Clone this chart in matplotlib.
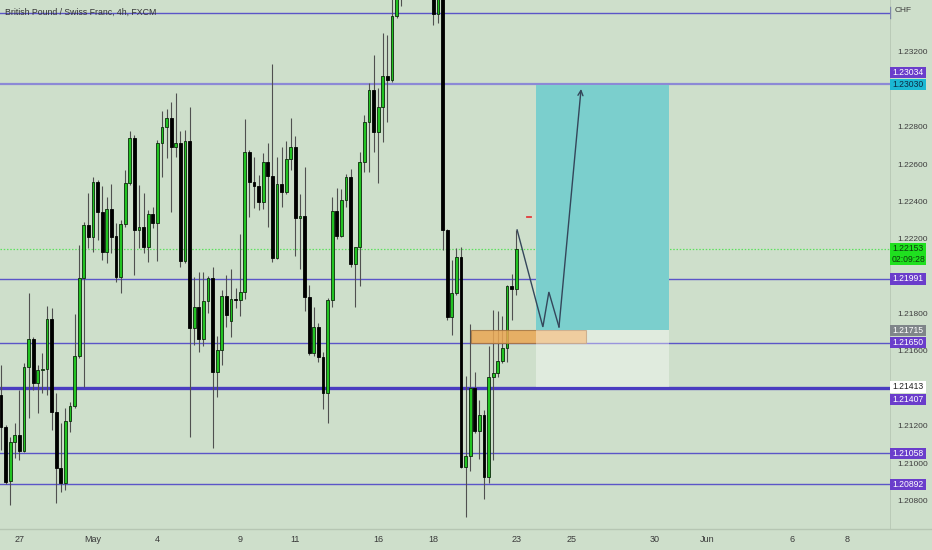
import matplotlib
matplotlib.use('Agg')
import matplotlib.pyplot as plt
from matplotlib.patches import Rectangle
from matplotlib.lines import Line2D
import numpy as np

plt.rcParams['font.family'] = ['Liberation Sans Narrow', 'Liberation Sans', 'DejaVu Sans']

# ---------------- data ----------------
title = "British Pound / Swiss Franc, 4h, FXCM"

opens = [
    1.21370, 1.21199, 1.20910, 1.21118, 1.21156, 1.21070, 1.21520, 1.21669, 1.21434, 1.21504,
    1.21509, 1.21776, 1.21279, 1.20979, 1.20899, 1.21231, 1.21311, 1.21578, 1.21996, 1.22279,
    1.22215, 1.22509, 1.22349, 1.22135, 1.22365, 1.22220, 1.22001, 1.22285, 1.22504, 1.22745,
    1.22253, 1.22269, 1.22162, 1.22338, 1.22290, 1.22718, 1.22804, 1.22852, 1.22697, 1.22718,
    1.22087, 1.22729, 1.21728, 1.21841, 1.21669, 1.21873, 1.21996, 1.21493, 1.21611, 1.21899,
    1.21766, 1.21883, 1.21878, 1.21921, 1.22670, 1.22509, 1.22488, 1.22402, 1.22616, 1.22541,
    1.22103, 1.22499, 1.22456, 1.22632, 1.22697, 1.22317, 1.22327, 1.21894, 1.21594, 1.21734,
    1.21573, 1.21380, 1.21878, 1.22354, 1.22220, 1.22413, 1.22536, 1.22071, 1.22162, 1.22616,
    1.22830, 1.23002, 1.22777, 1.22911, 1.23076, 1.23055, 1.23397, 1.23620, 1.23750, 1.23820,
    1.23760, 1.23680, 1.23740, 1.23650, 1.23600, 1.23408, 1.23580, 1.22253, 1.21787, 1.21915,
    1.22108, 1.20985, 1.21043, 1.21407, 1.21177, 1.21263, 1.20931, 1.21466, 1.21487, 1.21552,
    1.21621, 1.21953, 1.21937]

highs = [
    1.21530, 1.21209, 1.21145, 1.21220, 1.21397, 1.21541, 1.21915, 1.21680, 1.21530, 1.21594,
    1.21846, 1.21835, 1.21380, 1.21220, 1.21300, 1.21332, 1.21803, 1.22172, 1.22295, 1.22450,
    1.22536, 1.22520, 1.22488, 1.22429, 1.22499, 1.22290, 1.22306, 1.22574, 1.22782, 1.22761,
    1.22493, 1.22450, 1.22360, 1.22376, 1.22734, 1.22889, 1.22900, 1.22937, 1.22985, 1.22782,
    1.22788, 1.22911, 1.22001, 1.22028, 1.22028, 1.22006, 1.22055, 1.21685, 1.21931, 1.22012,
    1.22044, 1.21942, 1.22231, 1.22846, 1.22681, 1.22643, 1.22547, 1.22664, 1.22718, 1.23141,
    1.22643, 1.22697, 1.22729, 1.22852, 1.22755, 1.22445, 1.22590, 1.21958, 1.21841, 1.21755,
    1.21600, 1.21889, 1.22429, 1.22477, 1.22472, 1.22552, 1.22579, 1.22162, 1.22670, 1.22868,
    1.23039, 1.23189, 1.23012, 1.23306, 1.23296, 1.23490, 1.23680, 1.23820, 1.23900, 1.23950,
    1.23880, 1.23800, 1.23860, 1.23720, 1.23650, 1.23620, 1.23600, 1.22258, 1.22092, 1.22156,
    1.22162, 1.21471, 1.21750, 1.21493, 1.21343, 1.21290, 1.21632, 1.21825, 1.21819, 1.21792,
    1.21958, 1.22017, 1.22253]

lows = [
    1.21076, 1.20894, 1.20781, 1.21033, 1.21022, 1.21065, 1.21247, 1.21397, 1.21273, 1.21380,
    1.21370, 1.21183, 1.20792, 1.20851, 1.20862, 1.21172, 1.21300, 1.21568, 1.21413, 1.22156,
    1.22135, 1.22199, 1.22092, 1.22076, 1.22129, 1.21974, 1.21915, 1.22269, 1.22493, 1.22012,
    1.22156, 1.22129, 1.22081, 1.22263, 1.22087, 1.22536, 1.22638, 1.22349, 1.22643, 1.22055,
    1.22076, 1.21145, 1.21637, 1.21600, 1.21632, 1.21808, 1.21086, 1.21359, 1.21530, 1.21734,
    1.21680, 1.21835, 1.21792, 1.21883, 1.22322, 1.22370, 1.22360, 1.22365, 1.22269, 1.22081,
    1.22097, 1.22376, 1.22445, 1.22574, 1.22113, 1.22044, 1.21819, 1.21584, 1.21578, 1.21546,
    1.21295, 1.21220, 1.21841, 1.22204, 1.22215, 1.22376, 1.22055, 1.21841, 1.21953, 1.22563,
    1.22563, 1.22670, 1.22504, 1.22723, 1.22830, 1.23044, 1.23387, 1.23451, 1.23640, 1.23700,
    1.23620, 1.23560, 1.23600, 1.23520, 1.23349, 1.23360, 1.22146, 1.21771, 1.21691, 1.21905,
    1.20979, 1.20717, 1.20963, 1.21166, 1.21027, 1.20813, 1.20899, 1.21022, 1.21466, 1.21541,
    1.21546, 1.21771, 1.21905]

closes = [
    1.21199, 1.20904, 1.21118, 1.21156, 1.21070, 1.21520, 1.21669, 1.21434, 1.21504, 1.21509,
    1.21776, 1.21279, 1.20979, 1.20899, 1.21231, 1.21311, 1.21578, 1.21996, 1.22279, 1.22215,
    1.22509, 1.22349, 1.22135, 1.22365, 1.22215, 1.22001, 1.22285, 1.22504, 1.22745, 1.22253,
    1.22269, 1.22162, 1.22338, 1.22290, 1.22718, 1.22804, 1.22852, 1.22697, 1.22718, 1.22087,
    1.22729, 1.21728, 1.21841, 1.21669, 1.21873, 1.21996, 1.21493, 1.21611, 1.21899, 1.21798,
    1.21883, 1.21878, 1.21921, 1.22670, 1.22509, 1.22488, 1.22402, 1.22616, 1.22541, 1.22103,
    1.22499, 1.22456, 1.22632, 1.22697, 1.22317, 1.22327, 1.21894, 1.21594, 1.21734, 1.21573,
    1.21380, 1.21878, 1.22354, 1.22220, 1.22413, 1.22536, 1.22071, 1.22162, 1.22616, 1.22830,
    1.23002, 1.22777, 1.22911, 1.23076, 1.23055, 1.23397, 1.23620, 1.23750, 1.23820, 1.23760,
    1.23680, 1.23740, 1.23650, 1.23600, 1.23408, 1.23580, 1.22253, 1.21787, 1.21915, 1.22108,
    1.20985, 1.21043, 1.21407, 1.21177, 1.21263, 1.20931, 1.21466, 1.21487, 1.21552, 1.21621,
    1.21953, 1.21937, 1.22153]

date_tick_bars = [4, 20, 34, 52, 64, 82, 94, 112, 124, 142, 153.5, 172, 184]
date_tick_labels = ['27', 'May', '4', '9', '11', '16', '18', '23', '25', '30', 'Jun', '6', '8']

# price scale labels that are not covered by a price-label box
price_ticks = [1.20800, 1.21000, 1.21200, 1.21600, 1.21800,
               1.22200, 1.22400, 1.22600, 1.22800, 1.23200]

level_prices = [1.23413, 1.23034, 1.21991, 1.21650, 1.21407, 1.21058, 1.20892]
level_widths = [1.0, 1.6, 1.0, 1.0, 2.4, 1.0, 1.0]

current_price = 1.22153
countdown = "02:09:28"

entry_price = 1.21715
target_price = 1.23030
stop_price = 1.21413
position_bars = [116.3, 145.3]

zone_bars = [102.2, 127.2]
zone_prices = [1.21650, 1.21715]

path_bars = [112.2, 117.8, 119.1, 121.3, 126.1]
path_prices = [1.22253, 1.21734, 1.21921, 1.21734, 1.23007]

marker_bars = [114.4, 115.3]
marker_price = 1.22322

# ---------------- figure ----------------
BG = '#cedfcb'
W, H = 932, 550
PLOT_W, PLOT_H = 890, 529
fig = plt.figure(figsize=(W / 100, H / 100), dpi=100, facecolor=BG)
ax = fig.add_axes([0, (H - PLOT_H) / H, PLOT_W / W, PLOT_H / H])
ax.set_facecolor(BG)
ax2 = fig.add_axes([PLOT_W / W, (H - PLOT_H) / H, (W - PLOT_W) / W, PLOT_H / H])
ax2.set_facecolor(BG)

YMIN, YMAX = 1.20653, 1.23483
ax.set_xlim(-0.22, 193.26)
ax.set_ylim(YMIN, YMAX)
ax2.set_xlim(0, 1)
ax2.set_ylim(YMIN, YMAX)
dpp = (YMAX - YMIN) / PLOT_H  # data per pixel (for label box sizing)

for a in (ax, ax2):
    for s in a.spines.values():
        s.set_visible(False)
ax.tick_params(axis='y', left=False, labelleft=False)
ax2.set_xticks([])
ax2.set_yticks([])

# horizontal levels
for p, lw in zip(level_prices, level_widths):
    col = '#8c89d6' if lw == 1.6 else ('#4a3cc0' if lw > 2 else '#5b55c8')
    ax.axhline(p, color=col, lw=lw, zorder=1)

# current price dotted line
ax.axhline(current_price, color='#5ee05e', lw=0.9, ls=(0, (1.2, 1.4)), zorder=1)

# candles
o = np.array(opens); h = np.array(highs); l = np.array(lows); c = np.array(closes)
x = np.arange(len(o))
up = c >= o
ax.vlines(x, l, h, color='#505050', lw=0.8, zorder=2)
bb = np.minimum(o, c)
bh = np.maximum(np.abs(c - o), 0.00004)
ax.bar(x[up], bh[up], bottom=bb[up], width=0.62, color='#22c322',
       edgecolor='#0c2a0c', linewidth=0.6, zorder=3)
ax.bar(x[~up], bh[~up], bottom=bb[~up], width=0.62, color='#000000',
       edgecolor='#000000', linewidth=0.6, zorder=3)

# demand zone (orange)
ax.add_patch(Rectangle((zone_bars[0], zone_prices[0]), zone_bars[1] - zone_bars[0],
                       zone_prices[1] - zone_prices[0], facecolor='#eba753', alpha=0.85,
                       edgecolor='#a8753f', lw=0.8, zorder=4))

# long position tool
ax.add_patch(Rectangle((position_bars[0], entry_price), position_bars[1] - position_bars[0],
                       target_price - entry_price, facecolor='#7bcfcd', edgecolor='none', zorder=5))
ax.add_patch(Rectangle((position_bars[0], stop_price), position_bars[1] - position_bars[0],
                       entry_price - stop_price, facecolor='white', alpha=0.38,
                       edgecolor='none', zorder=5))

# projected path
PATH_C = '#34465a'
ax.plot(path_bars[:-1], path_prices[:-1], color=PATH_C, lw=1.0, zorder=6,
        solid_joinstyle='miter')
ax.annotate('', xy=(path_bars[-1], path_prices[-1]), xytext=(path_bars[-2], path_prices[-2]),
            arrowprops=dict(arrowstyle='->', color=PATH_C, lw=1.0, shrinkA=0, shrinkB=0,
                            mutation_scale=9), zorder=6)

# small red marker
ax.plot(marker_bars, [marker_price, marker_price], color='#e33b3b', lw=1.3, zorder=6)

# title
ax.text(5 / PLOT_W, 1 - 12 / PLOT_H, title, transform=ax.transAxes, ha='left', va='center',
        fontsize=6.3, color='#333333', zorder=7)

# date axis
ax.set_xticks(date_tick_bars)
ax.set_xticklabels(date_tick_labels)
ax.tick_params(axis='x', length=0, pad=4.5, labelsize=6.5, labelcolor='#3a3a3a')

# separators
fig.add_artist(Line2D([0, 1], [(H - PLOT_H) / H] * 2, transform=fig.transFigure,
                      color='#b6c6b3', lw=1))
ax2.axvline(0, color='#b6c6b3', lw=1.2, zorder=1)
# small bracket of the top level line on the scale
ax2.plot([0.0, 0.0], [level_prices[0] - 5 * dpp, level_prices[0] + 6 * dpp],
         color='#7d86a8', lw=1.0, zorder=2)

# price tick labels
for p in price_ticks:
    ax2.text(0.17, p, f'{p:.5f}', ha='left', va='center', fontsize=6, color='#3d3d3d', zorder=3)

ax2.text(0.10, 1 - 10 / PLOT_H, 'CHF', transform=ax2.transAxes, ha='left', va='center',
         fontsize=6, color='#3d3d3d', zorder=3)


def label_box(price, text, fc, tc, dy_px=0.0, h_px=11.5):
    cy = price - dy_px * dpp
    hh = h_px * dpp
    ax2.add_patch(Rectangle((0.0, cy - hh / 2), 0.86, hh, facecolor=fc, edgecolor='none',
                            zorder=5, clip_on=False))
    ax2.text(0.43, cy, text, ha='center', va='center', fontsize=6.2, color=tc, zorder=6)


PURPLE = '#6a3dcb'
label_box(1.23034, '1.23034', PURPLE, 'white', dy_px=-11.5)
label_box(target_price, '1.23030', '#1bb8d3', '#0b2a44')
label_box(1.21991, '1.21991', PURPLE, 'white')
label_box(entry_price, '1.21715', '#7f8589', 'white')
label_box(1.21650, '1.21650', PURPLE, 'white')
label_box(stop_price, '1.21413', '#ffffff', '#222222')
label_box(1.21407, '1.21407', PURPLE, 'white', dy_px=11.5)
label_box(1.21058, '1.21058', PURPLE, 'white')
label_box(1.20892, '1.20892', PURPLE, 'white')

# current price box (two lines)
top = current_price + 5.5 * dpp
ax2.add_patch(Rectangle((0.0, top - 22 * dpp), 0.86, 22 * dpp, facecolor='#1fe01f',
                        edgecolor='none', zorder=5))
ax2.text(0.43, current_price, f'{current_price:.5f}', ha='center', va='center',
         fontsize=6.2, color='#0c3a0c', zorder=6)
ax2.text(0.43, current_price - 10.5 * dpp, countdown, ha='center', va='center',
         fontsize=6.2, color='#0c3a0c', zorder=6)

fig.savefig('out.png', dpi=100, facecolor=BG)
